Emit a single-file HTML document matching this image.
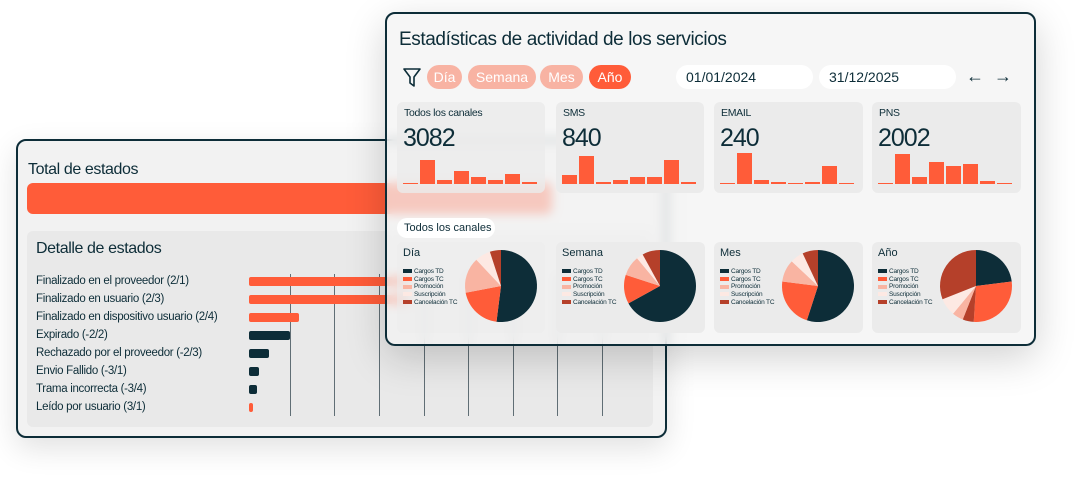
<!DOCTYPE html>
<html><head><meta charset="utf-8">
<style>
*{box-sizing:border-box;margin:0;padding:0}
body{width:1089px;height:495px;background:#fff;position:relative;overflow:hidden;font-family:"Liberation Sans",sans-serif;color:#0d2d38}
.abs{position:absolute}
.card{position:absolute;border:2px solid #0d2d38;border-radius:10px;background:#f2f2f2}
#back{left:16px;top:139px;width:651px;height:299px;box-shadow:0 10px 30px rgba(0,0,0,.12)}
#front{left:385px;top:12px;width:651px;height:334px;background:rgba(243,243,243,.72);backdrop-filter:blur(5px);-webkit-backdrop-filter:blur(5px);box-shadow:0 12px 40px rgba(0,0,0,.18)}
.lbl{position:absolute;left:36px;font-size:11.5px;letter-spacing:-.3px;white-space:nowrap}
.bar{position:absolute;height:9px;border-radius:2px}
.pill{position:absolute;top:65px;height:24px;border-radius:12px;background:#f8b3a3;color:#fff;font-size:14px;line-height:24px;text-align:center}
.date{position:absolute;top:65px;height:24px;border-radius:12px;background:#fff;font-size:14px;line-height:24px;padding-left:10px}
.stat{position:absolute;top:102px;height:91px;border-radius:6px;background:#ebebeb}
.stat .t{position:absolute;left:7px;top:5px;font-size:10.5px;letter-spacing:-.3px}
.stat .n{position:absolute;left:6px;top:22px;font-size:25px;letter-spacing:-1px}
.pc{position:absolute;top:242px;height:91px;border-radius:6px;background:#ebebeb}
.pc .t{position:absolute;left:6px;top:5px;font-size:11px}
.leg{position:absolute;left:6px;top:26px;font-size:6.5px;line-height:7.7px;letter-spacing:-.2px}
.leg i{display:inline-block;width:9px;height:4px;margin-right:2px;vertical-align:middle}
</style></head><body>

<div class="card" id="back">
  <div class="abs" style="left:10px;top:20px;font-size:16px;letter-spacing:-.4px">Total de estados</div>
  <div class="abs" style="left:9px;top:42px;width:525px;height:31px;border-radius:6px;background:#ff5c39"></div>
  <div class="abs" style="left:9px;top:90px;width:626px;height:196px;border-radius:6px;background:#e9e9e9"></div>
</div>
<div class="abs" style="left:36px;top:240px;font-size:16px;letter-spacing:-.4px">Detalle de estados</div>
<div id="grid"></div>
<div class="lbl" style="top:275px">Finalizado en el proveedor (2/1)</div>
<div class="lbl" style="top:293px">Finalizado en usuario (2/3)</div>
<div class="lbl" style="top:311px">Finalizado en dispositivo usuario (2/4)</div>
<div class="lbl" style="top:329px">Expirado (-2/2)</div>
<div class="lbl" style="top:347px">Rechazado por el proveedor (-2/3)</div>
<div class="lbl" style="top:365px">Envio Fallido (-3/1)</div>
<div class="lbl" style="top:383px">Trama incorrecta (-3/4)</div>
<div class="lbl" style="top:401px">Leído por usuario (3/1)</div>
<div class="bar" style="left:249px;top:277px;width:160px;background:#ff5c39"></div>
<div class="bar" style="left:249px;top:295px;width:160px;background:#ff5c39"></div>
<div class="bar" style="left:249px;top:313px;width:50px;background:#ff5c39"></div>
<div class="bar" style="left:249px;top:331px;width:41px;background:#0d2d38"></div>
<div class="bar" style="left:249px;top:349px;width:20px;background:#0d2d38"></div>
<div class="bar" style="left:249px;top:367px;width:10px;background:#0d2d38"></div>
<div class="bar" style="left:249px;top:385px;width:8px;background:#0d2d38"></div>
<div class="bar" style="left:249px;top:403px;width:4px;background:#ff5c39"></div>

<div class="card" id="front">
  <div class="abs" style="left:12px;top:15px;font-size:19px;letter-spacing:-.4px">Estadísticas de actividad de los servicios</div>
  <svg class="abs" style="left:16px;top:54px" width="18" height="20" viewBox="0 0 18 20"><path d="M1 1H17L11 9V18L7 15V9Z" fill="none" stroke="#0d2d38" stroke-width="1.6" stroke-linejoin="round"/></svg>
</div>
<div class="pill" style="left:427px;width:35px">Día</div>
<div class="pill" style="left:468px;width:68px">Semana</div>
<div class="pill" style="left:540px;width:43px">Mes</div>
<div class="pill" style="left:589px;width:42px;background:#ff5c39">Año</div>
<div class="date" style="left:676px;width:137px">01/01/2024</div>
<div class="date" style="left:819px;width:137px">31/12/2025</div>
<div class="abs" style="left:966px;top:66px;font-size:18px">←</div>
<div class="abs" style="left:994px;top:66px;font-size:18px">→</div>

<div class="stat" style="left:397px;width:148px;background:rgba(235,235,235,.8)"><div class="t">Todos los canales</div><div class="n">3082</div></div>
<div class="stat" style="left:556px;width:148px"><div class="t">SMS</div><div class="n">840</div></div>
<div class="stat" style="left:714px;width:149px"><div class="t">EMAIL</div><div class="n">240</div></div>
<div class="stat" style="left:872px;width:149px"><div class="t">PNS</div><div class="n">2002</div></div>
<div id="sbars"></div>

<div class="abs" style="left:397px;top:218px;width:98px;height:20px;border-radius:10px;background:#fff;font-size:11px;line-height:20px;padding-left:7px">Todos los canales</div>

<div id="pies"></div>

<script>
var g='';[290,334,379,424,468,513,557,602].forEach(function(x){g+='<div class="abs" style="left:'+x+'px;top:274px;width:1px;height:142px;background:#3d4f57;opacity:.8"></div>'});
document.getElementById('grid').innerHTML=g;
var data=[[397,[1,24,4,13,7,4,10,2]],[556,[9,28,2,4,7,7,24,2]],[714,[1,31,4,2,1,2,18,1]],[872,[1,30,7,22,18,20,3,1]]];
var s='';data.forEach(function(d){d[1].forEach(function(h,i){s+='<div class="abs" style="left:'+(d[0]+6+i*17)+'px;top:'+(184-Math.max(h,1.5))+'px;width:15px;height:'+Math.max(h,1.5)+'px;background:#ff5c39"></div>'})});
document.getElementById('sbars').innerHTML=s;
var C={d:'#0d2d38',o:'#ff5c39',p:'#f9b4a2',w:'#fde9e3',b:'#b5402a'};
var pies=[[397,'Día',[['d',52],['o',20],['p',16],['w',7],['b',5]]],[556,'Semana',[['d',67],['o',13],['p',9],['w',3],['b',8]]],[714,'Mes',[['d',55],['o',22],['p',10],['w',6],['b',7]]],[872,'Año',[['d',23],['o',28],['b',5],['p',5],['w',8],['b',31]]]];
var h='';pies.forEach(function(p){
 var x=p[0];
 h+='<div class="pc" style="left:'+x+'px;width:'+(x==397?148:149)+'px'+(x==397?';background:rgba(235,235,235,.5)':'')+'"><div class="t">'+p[1]+'</div><div class="leg"><div><i style="background:#0d2d38"></i>Cargos TD</div><div><i style="background:#ff5c39"></i>Cargos TC</div><div><i style="background:#f9b4a2"></i>Promoción</div><div><i style="background:#fde9e3"></i>Suscripción</div><div><i style="background:#b5402a"></i>Cancelación TC</div></div>';
 var cx=104,cy=44,r=36,a=0,svg='<svg class="abs" style="left:0;top:0" width="149" height="91">';
 p[2].forEach(function(sl){var a2=a+sl[1]/100*2*Math.PI;var x1=cx+r*Math.sin(a),y1=cy-r*Math.cos(a),x2=cx+r*Math.sin(a2),y2=cy-r*Math.cos(a2);svg+='<path d="M'+cx+' '+cy+'L'+x1+' '+y1+'A'+r+' '+r+' 0 '+(a2-a>Math.PI?1:0)+' 1 '+x2+' '+y2+'Z" fill="'+C[sl[0]]+'"/>';a=a2;});
 h+=svg+'</svg></div>';
});
document.getElementById('pies').innerHTML=h;
</script>
</body></html>
